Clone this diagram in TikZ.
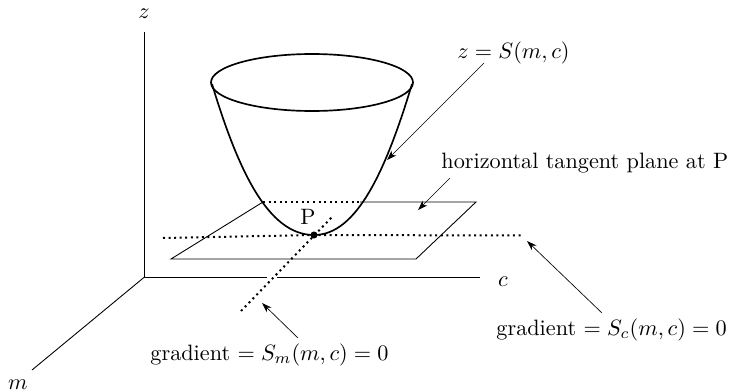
\documentclass[tikz,border=0pt]{standalone}
\usetikzlibrary{arrows.meta}
\tikzset{
  thin line/.style={line width=0.4pt,black},
  axis line/.style={line width=0.4pt,black},
  bowl/.style={line width=0.75pt,black},
  dots/.style={line width=0.9pt,black,dash pattern=on 0.9pt off 1.6pt},
  pointer/.style={line width=0.3pt,black,-{Stealth[length=4.5pt,width=3pt]}},
  lab/.style={inner sep=0pt}
}
\begin{document}
\begin{tikzpicture}[x=0.45pt,y=-0.45pt]
\useasboundingbox (0,0) rectangle (731,392);
% axes
\coordinate (O) at (144.5,277);
\coordinate (zend) at (144.5,32);
\coordinate (cend) at (480,277);
\coordinate (mend) at (32,370);
\draw[axis line] (zend) -- (O) -- (cend);
\draw[axis line] (O) -- (mend);
% plane
\coordinate (p1) at (171,259);
\coordinate (p2) at (416,259);
\coordinate (p3) at (476,202);
\coordinate (p4) at (263,202);
\coordinate (p5) at (360,202);
\draw[thin line] (p5) -- (p3) -- (p2) -- (p1) -- (p4);
% dotted
\coordinate (gapA) at (267,277);
\coordinate (gapB) at (277,277);
\draw[white,line width=1.5pt] (gapA) -- (gapB);
\coordinate (dxa) at (163,238);
\coordinate (dxb) at (524,235.5);
\coordinate (dya) at (241,311);
\coordinate (dyb) at (333,216);
\coordinate (Pt) at (314,235);
\draw[dots] (p4) -- (p5);
\draw[dots] (dxa) -- (Pt) -- (dxb);
\draw[dots] (dya) -- (dyb);
% bowl
\coordinate (rimL) at (212,84);
\coordinate (rimR) at (412,84);
\draw[bowl] (312,82.5) ellipse [x radius=101,y radius=28.5];
\draw[bowl] (rimL) .. controls (238,170) and (268,235) .. (Pt)
  .. controls (357,235) and (386,170) .. (rimR);
\fill (Pt) circle [radius=1.6pt];
% labels
\node[lab] (zl) at (144,14) {$z$};
\node[lab] (cl) at (503,282) {$c$};
\node[lab] (ml) at (18,385) {$m$};
\node[lab] (pl) at (308,217) {P};
\node[lab,anchor=west] (sl) at (457,53) {$z=S(m,c)$};
\node[lab,anchor=west] (hl) at (441,163) {horizontal tangent plane at P};
\node[lab,anchor=west] (gm) at (150,355) {gradient $=S_m(m,c)=0$};
\node[lab,anchor=west] (gc) at (496,330) {gradient $=S_c(m,c)=0$};
% pointers
\coordinate (a1s) at (484,63);
\coordinate (a1e) at (387,160);
\coordinate (a2s) at (450,178);
\coordinate (a2e) at (418,210);
\coordinate (a3s) at (298,338);
\coordinate (a3e) at (262,303);
\coordinate (a4s) at (602,313);
\coordinate (a4e) at (527,241);
\draw[pointer] (a1s) -- (a1e);
\draw[pointer] (a2s) -- (a2e);
\draw[pointer] (a3s) -- (a3e);
\draw[pointer] (a4s) -- (a4e);
\end{tikzpicture}
\end{document}
